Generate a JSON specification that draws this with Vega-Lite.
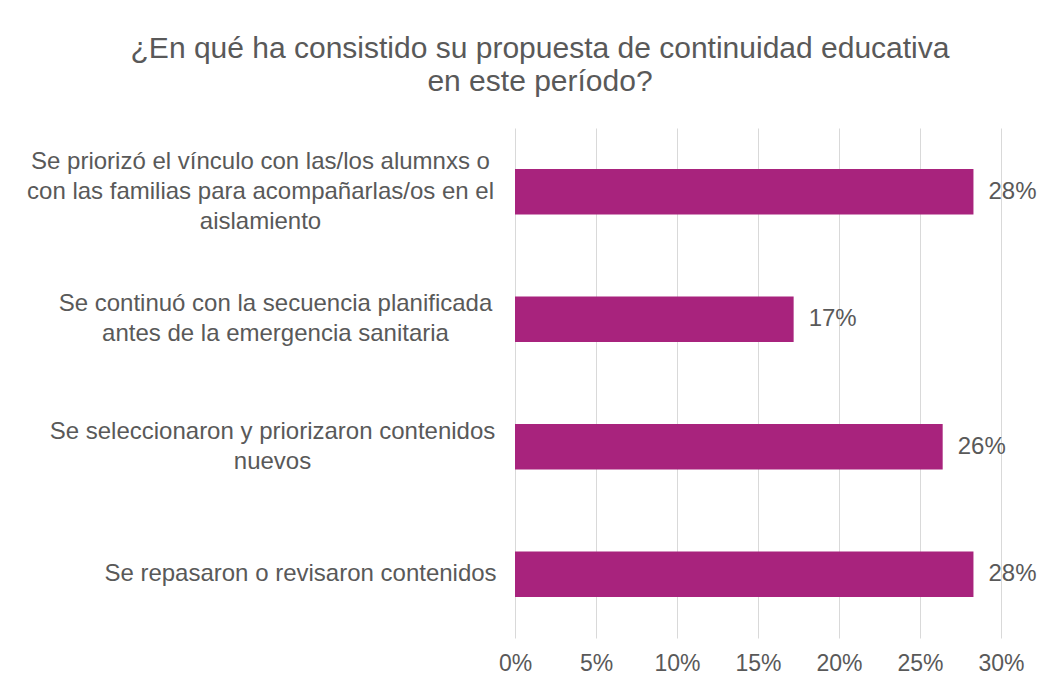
{
  "$schema": "https://vega.github.io/schema/vega-lite/v6.json",
  "autosize": "none",
  "width": 486,
  "height": 510,
  "padding": {"left": 515, "top": 128, "right": 43, "bottom": 54},
  "background": "white",
  "title": {
    "text": ["¿En qué ha consistido su propuesta de continuidad educativa", "en este período?"],
    "anchor": "middle",
    "frame": "group",
    "dx": -218,
    "offset": 31,
    "fontSize": 30,
    "font": "Liberation Sans",
    "fontWeight": "normal",
    "color": "#595959",
    "lineHeight": 33
  },
  "data": {
    "values": [
      {"categoria": "Se priorizó el vínculo con las/los alumnxs o|con las familias para acompañarlas/os en el|aislamiento", "valor": 0.283},
      {"categoria": "Se continuó con la secuencia planificada|antes de la emergencia sanitaria", "valor": 0.172},
      {"categoria": "Se seleccionaron y priorizaron contenidos|nuevos", "valor": 0.264},
      {"categoria": "Se repasaron o revisaron contenidos", "valor": 0.283}
    ]
  },
  "encoding": {
    "y": {
      "field": "categoria",
      "type": "nominal",
      "sort": null,
      "scale": {"paddingInner": 0.645, "paddingOuter": 0.3225},
      "axis": {
        "title": null,
        "domain": false,
        "ticks": false,
        "labelExpr": "split(datum.label, '|')",
        "labelAlign": "center",
        "labelPadding": {
          "condition": [
            {"test": "indexof(datum.label, 'Se priorizó') == 0", "value": 255},
            {"test": "indexof(datum.label, 'Se continuó') == 0", "value": 240},
            {"test": "indexof(datum.label, 'Se seleccionaron') == 0", "value": 243}
          ],
          "value": 215
        },
        "labelOffset": {
          "condition": [
            {"test": "length(split(datum.label, '|')) == 3", "value": -30},
            {"test": "length(split(datum.label, '|')) == 2", "value": -15}
          ],
          "value": 0
        },
        "labelFont": "Liberation Sans",
        "labelFontSize": 24,
        "labelColor": "#595959",
        "labelLineHeight": 30,
        "labelLimit": 700
      }
    },
    "x": {
      "field": "valor",
      "type": "quantitative",
      "scale": {"domain": [0, 0.3], "nice": false},
      "axis": {
        "title": null,
        "format": ".0%",
        "values": [0, 0.05, 0.1, 0.15, 0.2, 0.25, 0.3],
        "domain": false,
        "ticks": false,
        "grid": true,
        "gridColor": "#d9d9d9",
        "gridWidth": 1,
        "labelFlush": false,
        "labelFont": "Liberation Sans",
        "labelFontSize": 23,
        "labelColor": "#595959",
        "labelPadding": 14
      }
    }
  },
  "layer": [
    {"mark": {"type": "bar", "color": "#A8237D"}},
    {
      "mark": {"type": "text", "align": "left", "dx": 15, "font": "Liberation Sans", "fontSize": 24, "color": "#595959"},
      "encoding": {"text": {"field": "valor", "type": "quantitative", "format": ".0%"}}
    }
  ],
  "config": {"view": {"stroke": null}}
}
